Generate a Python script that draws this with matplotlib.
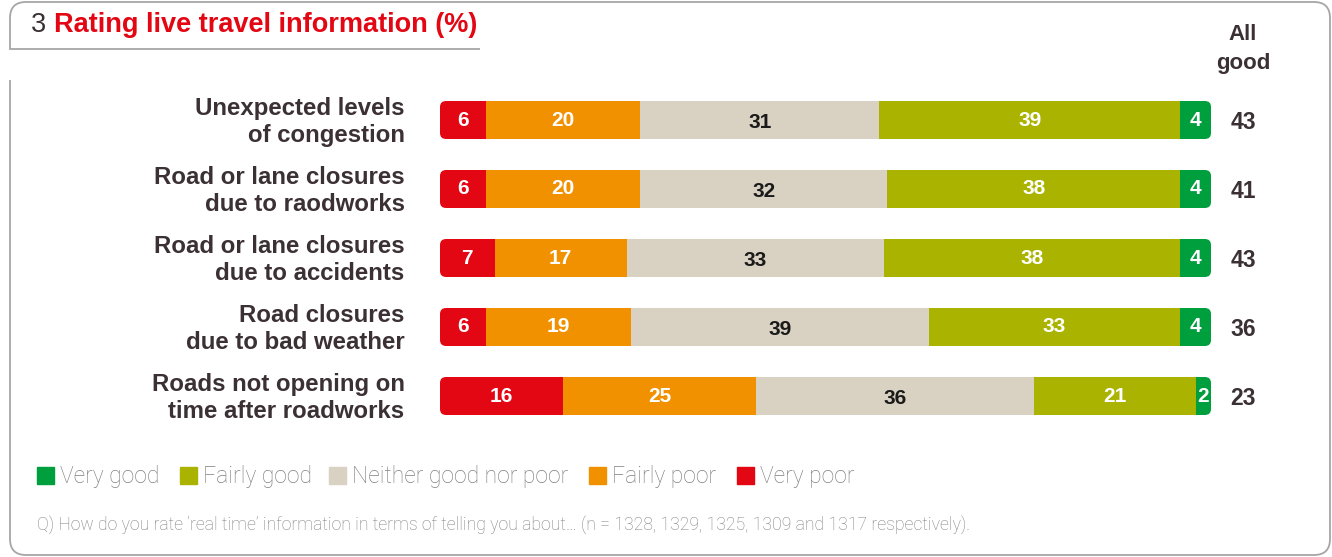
import matplotlib
matplotlib.use('Agg')
import matplotlib.pyplot as plt
from matplotlib.patches import FancyBboxPatch, PathPatch, Rectangle
from matplotlib.path import Path
from matplotlib.transforms import blended_transform_factory

# данные
categories = ['Unexpected levels\nof congestion',
              'Road or lane closures\ndue to raodworks',
              'Road or lane closures\ndue to accidents',
              'Road closures\ndue to bad weather',
              'Roads not opening on\ntime after roadworks']
very_poor = [6, 6, 7, 6, 16]
fairly_poor = [20, 20, 17, 19, 25]
neither = [31, 32, 33, 39, 36]
fairly_good = [39, 38, 38, 33, 21]
very_good = [4, 4, 4, 4, 2]
all_good = [43, 41, 43, 36, 23]

series_names = ['Very poor', 'Fairly poor', 'Neither good nor poor', 'Fairly good', 'Very good']
series_values = [very_poor, fairly_poor, neither, fairly_good, very_good]
colors = ['#e30613', '#f29100', '#d9d1c2', '#aab400', '#009f3d']
label_colors = ['white', 'white', '#1a1a1a', 'white', 'white']

DARK = '#3b3034'
GREY_TXT = '#808080'
FRAME = '#a6a6a6'
BOLD = ['Liberation Sans', 'DejaVu Sans']
LIGHT = ['Roboto', 'Liberation Sans', 'DejaVu Sans']

W, H = 1332, 557
fig = plt.figure(figsize=(W / 100, H / 100), dpi=100)

# фон и рамка в пиксельных координатах
bg = fig.add_axes([0, 0, 1, 1], zorder=0)
bg.set_xlim(0, W)
bg.set_ylim(H, 0)
bg.axis('off')

r = 16
L, T, R, B = 10, 2, 1330, 555
verts = [(480, 49), (L, 49), (L, T + r), (L, T), (L + r, T),
         (R - r, T), (R, T), (R, T + r),
         (R, B - r), (R, B), (R - r, B),
         (L + r, B), (L, B), (L, B - r), (L, 80)]
codes = [Path.MOVETO, Path.LINETO, Path.LINETO, Path.CURVE3, Path.CURVE3,
         Path.LINETO, Path.CURVE3, Path.CURVE3,
         Path.LINETO, Path.CURVE3, Path.CURVE3,
         Path.LINETO, Path.CURVE3, Path.CURVE3, Path.LINETO]
bg.add_patch(PathPatch(Path(verts, codes), fill=False, edgecolor=FRAME, lw=1.3))

# заголовок
t1 = bg.text(31, 25, '3 ', fontsize=19.5, color=DARK, family=BOLD, va='center', ha='left')
fig.canvas.draw()
bb = t1.get_window_extent()
bg.text(31 + bb.width, 25, 'Rating live travel information (%)', fontsize=19.5,
        fontweight='bold', color='#e30613', family=BOLD, va='center', ha='left')

bg.text(1243, 49, 'All\ngood', fontsize=16, fontweight='bold', color=DARK, family=BOLD,
        ha='center', va='center', linespacing=1.5)

# легенда
leg_x = [37, 180, 329, 589, 737]
for i, idx in enumerate([4, 3, 2, 1, 0]):
    bg.add_patch(Rectangle((leg_x[i], 467), 17, 17, color=colors[idx]))
    bg.text(leg_x[i] + 23, 477, series_names[idx], fontsize=16.5, color=GREY_TXT,
            family=LIGHT, fontweight='light', va='center', ha='left')

bg.text(37, 525, 'Q) How do you rate \u2018real time\u2019 information in terms of telling you about\u2026 '
        '(n = 1328, 1329, 1325, 1309 and 1317 respectively).',
        fontsize=12.7, color=GREY_TXT, family=LIGHT, fontweight='light', va='center', ha='left')

# столбцы
ax = fig.add_axes([440 / W, (H - 430.5) / H, 771 / W, 345 / H], zorder=1)
ax.set_xlim(0, 100)
ax.set_ylim(len(categories) - 0.5, -0.5)
ax.axis('off')
bar_h = 38 / 69

for row in range(len(categories)):
    vals = [s[row] for s in series_values]
    total = sum(vals)
    clip = FancyBboxPatch((0, row - bar_h / 2), 100, bar_h,
                          boxstyle='round,pad=0,rounding_size=0.8',
                          mutation_aspect=0.109, transform=ax.transData)
    left = 0
    for k, v in enumerate(vals):
        w = v / total * 100
        bars = ax.barh(row, w, left=left, height=bar_h, color=colors[k], linewidth=0)
        for b in bars:
            b.set_clip_path(clip)
        dy = -1.5 if k == 2 else 0
        ax.annotate(str(v), xy=(left + w / 2, row), xytext=(0, dy), textcoords='offset points',
                    ha='center', va='center', fontsize=15, fontweight='bold',
                    color=label_colors[k], family=BOLD)
        left += w

tr = blended_transform_factory(ax.transAxes, ax.transData)
for row, cat in enumerate(categories):
    ax.annotate(cat, xy=(-0.046, row), xycoords=tr, xytext=(0, -1.5), textcoords='offset points',
                ha='right', va='center', multialignment='right',
                fontsize=17.3, fontweight='bold', color=DARK, family=BOLD, linespacing=1.2)
    ax.annotate(str(all_good[row]), xy=(1.0415, row), xycoords=tr, xytext=(0, -1.5),
                textcoords='offset points', ha='center', va='center',
                fontsize=16.5, fontweight='bold', color=DARK, family=BOLD)

fig.savefig('out.png', dpi=100)
